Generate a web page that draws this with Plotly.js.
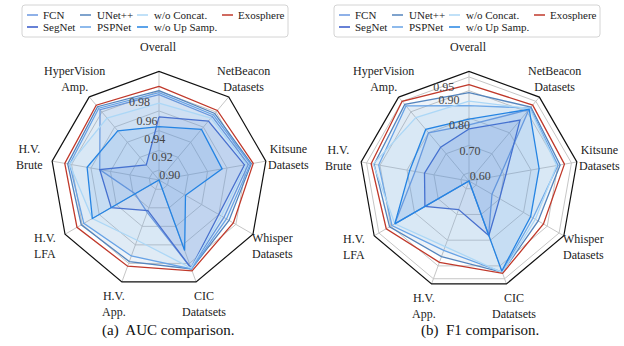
<!DOCTYPE html>
<html><head><meta charset="utf-8">
<script src="https://cdn.plot.ly/plotly-3.0.1.min.js"></script>
<style>html,body{margin:0;padding:0;background:#fff;} #chart{width:624px;height:346px;}</style>
</head><body><div id="chart"></div>
<script>
// ---------- data ----------
const categories = ['Overall', 'NetBeacon<br>Datasets', 'Kitsune<br>Datasets', 'Whisper<br>Datasets',
  'CIC<br>Datatsets', 'H.V.<br>App.', 'H.V.<br>LFA', 'H.V.<br>Brute', 'HyperVision<br>Amp.'];
const seriesNames = ['FCN', 'SegNet', 'UNet++', 'PSPNet', 'w/o Concat.', 'w/o Up Samp.', 'Exosphere'];

// AUC comparison
const aucFCN       = [0.9765, 0.974, 0.982, 0.966, 0.985, 0.925, 0.918, 0.951, 0.983];
const aucSegNet    = [0.954, 0.968, 0.978, 0.960, 0.985, 0.923, 0.946, 0.951, 0.910];
const aucUNetpp    = [0.9805, 0.978, 0.985, 0.972, 0.986, 0.978, 0.981, 0.984, 0.987];
const aucPSPNet    = [0.9785, 0.976, 0.984, 0.969, 0.986, 0.972, 0.978, 0.982, 0.985];
const aucNoConcat  = [0.968, 0.972, 0.980, 0.963, 0.985, 0.955, 0.968, 0.982, 0.972];
const aucNoUpSamp  = [0.944, 0.957, 0.955, 0.921, 0.966, 0.890, 0.968, 0.964, 0.955];
const aucExosphere = [0.985, 0.982, 0.987, 0.977, 0.988, 0.983, 0.986, 0.987, 0.989];
const aucTicks = [0.90, 0.92, 0.94, 0.96, 0.98];
const aucTickText = ['0.90', '0.92', '0.94', '0.96', '0.98'];
const aucRange = [0.89, 1.0];

// F1 comparison
const f1FCN       = [0.775, 0.910, 0.686, 0.667, 0.780, 0.570, 0.883, 0.770, 0.800];
const f1SegNet    = [0.760, 0.860, 0.707, 0.699, 0.782, 0.681, 0.756, 0.735, 0.731];
const f1UNetpp    = [0.893, 0.922, 0.908, 0.862, 0.925, 0.864, 0.905, 0.922, 0.935];
const f1PSPNet    = [0.845, 0.918, 0.900, 0.840, 0.924, 0.840, 0.895, 0.905, 0.928];
const f1NoConcat  = [0.862, 0.915, 0.895, 0.850, 0.926, 0.825, 0.883, 0.925, 0.872];
const f1NoUpSamp  = [0.796, 0.912, 0.830, 0.830, 0.920, 0.570, 0.883, 0.790, 0.816];
const f1Exosphere = [0.922, 0.932, 0.924, 0.884, 0.929, 0.886, 0.919, 0.933, 0.950];
const f1Ticks = [0.60, 0.70, 0.80, 0.90, 0.95];
const f1TickText = ['0.60', '0.70', '0.80', '0.90', '0.95'];
const f1Range = [0.57, 0.97];

const captions = ['(a)  AUC comparison.', '(b)  F1 comparison.'];

// ---------- styles ----------
const colors = ['#6a97e0', '#3457c9', '#5585bd', '#68a3e6', '#acd7f6', '#2584e3', '#c0392b'];
const fills  = ['rgba(106,151,224,0.10)', 'rgba(52,87,201,0.10)', 'rgba(85,133,189,0.10)',
  'rgba(104,163,230,0.10)', 'rgba(172,215,246,0.12)', 'rgba(37,132,227,0.10)', 'rgba(192,57,43,0.0)'];
const FONT = 'Liberation Serif, Times New Roman, serif';
const W = 624, H = 346;
const domL = {x: [0.0809, 0.4287], y: [0.1662, 0.7934]};
const domR = {x: [0.5761, 0.9271], y: [0.1604, 0.7934]};
// tick-label layers sit a few pixels lower/left, as the labels do in the original
const shiftDom = (d, dx, dy) => ({x: [d.x[0] + dx / W, d.x[1] + dx / W], y: [d.y[0] - dy / H, d.y[1] - dy / H]});

const aucSets = [aucFCN, aucSegNet, aucUNetpp, aucPSPNet, aucNoConcat, aucNoUpSamp, aucExosphere];
const f1Sets  = [f1FCN, f1SegNet, f1UNetpp, f1PSPNet, f1NoConcat, f1NoUpSamp, f1Exosphere];

const closed = a => a.concat([a[0]]);
const traces = [];
[[aucSets, 'polar'], [f1Sets, 'polar2']].forEach(([sets, sub]) => {
  sets.forEach((vals, i) => {
    traces.push({
      type: 'scatterpolar', subplot: sub, mode: 'lines',
      r: closed(vals), theta: closed(categories),
      name: seriesNames[i], showlegend: false,
      line: {color: colors[i], width: 1.3},
      fill: 'toself', fillcolor: fills[i], hoverinfo: 'name+r+theta'
    });
  });
});
// empty traces that carry the radial tick-label layers
['polar3', 'polar4'].forEach(sub => traces.push({type: 'scatterpolar', subplot: sub, r: [], theta: [],
  mode: 'lines', showlegend: false, hoverinfo: 'skip'}));

function polarLayout(dom, range, ticks) {
  return {
    domain: dom, gridshape: 'linear', bgcolor: 'rgba(0,0,0,0)',
    radialaxis: {
      range: range, tickvals: ticks, showticklabels: false,
      showline: false, ticks: '', gridcolor: '#c6c6c6', gridwidth: 1
    },
    angularaxis: {
      rotation: 90, direction: 'clockwise', showline: true, linecolor: '#111', linewidth: 1.2,
      gridcolor: '#c6c6c6', gridwidth: 1, ticks: '', showticklabels: false
    }
  };
}
function labelLayer(dom, range, ticks, ticktext) {
  return {
    domain: dom, gridshape: 'circular', bgcolor: 'rgba(0,0,0,0)',
    radialaxis: {
      range: range, tickvals: ticks, ticktext: ticktext, angle: 112.5, tickangle: 112.5,
      side: 'clockwise', showline: false, showgrid: false, ticks: '',
      tickfont: {family: FONT, size: 12, color: '#444'}
    },
    angularaxis: {visible: false, showgrid: false, showline: false, showticklabels: false, ticks: ''}
  };
}

const shapes = [], annotations = [];
const px = x => x / W, py = y => 1 - y / H;

// ---------- category labels, centred round each polygon ----------
[domL, domR].forEach(dom => {
  const cx = (dom.x[0] + dom.x[1]) / 2 * W, cy = (1 - (dom.y[0] + dom.y[1]) / 2) * H;
  const R = (dom.x[1] - dom.x[0]) * W / 2;
  categories.forEach((c, k) => {
    const th = k * 2 * Math.PI / categories.length;
    const multi = c.indexOf('<br>') >= 0;
    const D = R * (multi ? 1.212 : 1.226);
    const x = cx + D * Math.sin(th), y = cy - D * Math.cos(th);
    annotations.push({xref: 'paper', yref: 'paper', x: px(x), y: py(y),
      xanchor: 'center', yanchor: 'middle', align: 'center', showarrow: false, text: c,
      borderpad: 0, font: {family: FONT, size: 12, color: '#222'}});
  });
});

// ---------- legend (drawn as shapes + text) ----------
const legCols = [[0, 1], [2, 3], [4, 5], [6]];
const colLine = [27, 80, 137, 222];
const colText = [42, 96, 153, 237];
const rowY = [15, 27];
[0, 312].forEach(off => {
  const x0 = 22 + off, x1 = 288 + off, y0 = 5, y1 = 37, rr = 3;
  shapes.push({type: 'path', xref: 'paper', yref: 'paper',
    path: `M${px(x0 + rr)},${py(y0)} L${px(x1 - rr)},${py(y0)} Q${px(x1)},${py(y0)} ${px(x1)},${py(y0 + rr)} ` +
          `L${px(x1)},${py(y1 - rr)} Q${px(x1)},${py(y1)} ${px(x1 - rr)},${py(y1)} L${px(x0 + rr)},${py(y1)} ` +
          `Q${px(x0)},${py(y1)} ${px(x0)},${py(y1 - rr)} L${px(x0)},${py(y0 + rr)} Q${px(x0)},${py(y0)} ${px(x0 + rr)},${py(y0)} Z`,
    line: {color: '#d4d4d4', width: 1}, fillcolor: 'rgba(255,255,255,0.9)'});
  legCols.forEach((col, c) => {
    col.forEach((si, r) => {
      shapes.push({type: 'line', xref: 'paper', yref: 'paper',
        x0: px(colLine[c] + off), x1: px(colLine[c] + off + 11), y0: py(rowY[r]), y1: py(rowY[r]),
        line: {color: colors[si], width: 1.5}});
      annotations.push({xref: 'paper', yref: 'paper', x: px(colText[c] + off), y: py(rowY[r]),
        xanchor: 'left', yanchor: 'middle', showarrow: false, text: seriesNames[si], borderpad: 0,
        font: {family: FONT, size: 11, color: '#222'}});
    });
  });
});
[[168, captions[0]], [480, captions[1]]].forEach(([cx, t]) => {
  annotations.push({xref: 'paper', yref: 'paper', x: px(cx), y: py(330), xanchor: 'center', yanchor: 'middle',
    showarrow: false, text: t, font: {family: FONT, size: 15, color: '#111'}});
});

const layout = {
  width: W, height: H, margin: {l: 0, r: 0, t: 0, b: 0}, paper_bgcolor: '#fff',
  showlegend: false, font: {family: FONT},
  polar: polarLayout(domL, aucRange, aucTicks),
  polar2: polarLayout(domR, f1Range, f1Ticks),
  polar3: labelLayer(shiftDom(domL, -2, 5), aucRange, aucTicks, aucTickText),
  polar4: labelLayer(shiftDom(domR, -2, 3), f1Range, f1Ticks, f1TickText),
  shapes: shapes, annotations: annotations
};
Plotly.newPlot('chart', traces, layout, {displayModeBar: false, staticPlot: true});
</script></body></html>
